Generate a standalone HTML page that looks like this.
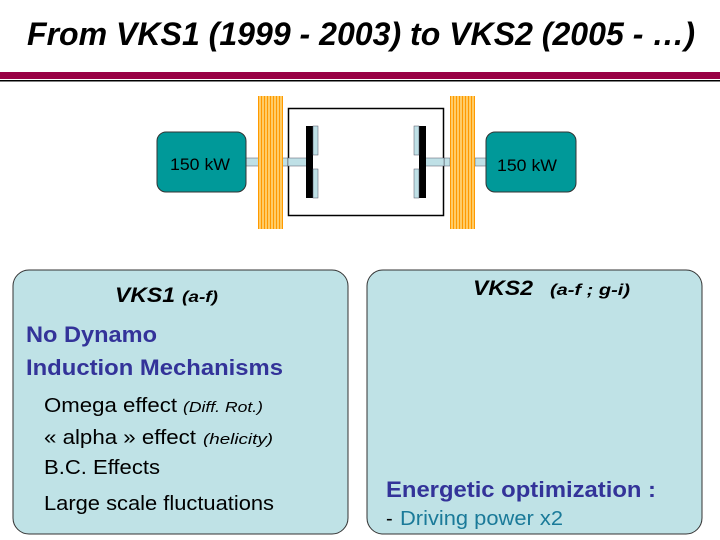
<!DOCTYPE html>
<html><head><style>
html,body{margin:0;padding:0;background:#fff;}
svg{display:block;}
text{font-family:"Liberation Sans",Arial,sans-serif;}
</style></head><body>
<svg width="720" height="540" viewBox="0 0 720 540" xmlns="http://www.w3.org/2000/svg">
<defs>
<pattern id="stripes" width="3" height="4" patternUnits="userSpaceOnUse">
<rect width="3" height="4" fill="#ffcc66"/>
<rect width="1" height="4" fill="#ff9900"/>
</pattern>
</defs>
<text x="27" y="45" font-size="32" font-weight="bold" font-style="italic" textLength="668" lengthAdjust="spacingAndGlyphs">From VKS1 (1999 - 2003) to VKS2 (2005 - …)</text>
<rect x="0" y="72" width="720" height="7" fill="#990044"/>
<rect x="0" y="80" width="720" height="1.5" fill="#000"/>

<!-- shafts -->
<rect x="246" y="158" width="42" height="8" fill="#bfe0e6" stroke="#556" stroke-width="0.5"/>
<rect x="425" y="158" width="25" height="8" fill="#bfe0e6" stroke="#556" stroke-width="0.5"/>
<rect x="475" y="158" width="12" height="8" fill="#bfe0e6" stroke="#556" stroke-width="0.5"/>
<!-- motors -->
<rect x="157" y="132" width="89" height="60" rx="9" fill="#009999" stroke="#333" stroke-width="1"/>
<text x="170" y="170" font-size="17" textLength="60" lengthAdjust="spacingAndGlyphs">150 kW</text>
<rect x="486" y="132" width="90" height="60" rx="9" fill="#009999" stroke="#333" stroke-width="1"/>
<text x="497" y="171" font-size="17" textLength="60" lengthAdjust="spacingAndGlyphs">150 kW</text>
<!-- coils -->
<rect x="258" y="96" width="25" height="133" fill="url(#stripes)"/>
<rect x="450" y="96" width="25" height="133" fill="url(#stripes)"/>
<!-- vessel -->
<rect x="288.5" y="108.5" width="155" height="107" fill="#fff" stroke="#000" stroke-width="1.5"/>
<rect x="288" y="158" width="20" height="8" fill="#bfe0e6" stroke="#556" stroke-width="0.5"/>
<rect x="425" y="158" width="19" height="8" fill="#bfe0e6" stroke="#556" stroke-width="0.5"/>
<!-- impellers -->
<rect x="306" y="126" width="7" height="72" fill="#000"/>
<rect x="313" y="126" width="5" height="29" fill="#bfe0e6" stroke="#556" stroke-width="0.5"/>
<rect x="313" y="169" width="5" height="29" fill="#bfe0e6" stroke="#556" stroke-width="0.5"/>
<rect x="419" y="126" width="7" height="72" fill="#000"/>
<rect x="414" y="126" width="5" height="29" fill="#bfe0e6" stroke="#556" stroke-width="0.5"/>
<rect x="414" y="169" width="5" height="29" fill="#bfe0e6" stroke="#556" stroke-width="0.5"/>

<!-- VKS1 box -->
<rect x="13" y="270" width="335" height="264" rx="16" fill="#bfe2e6" stroke="#333" stroke-width="1"/>
<text x="115" y="302" font-size="21" font-weight="bold" font-style="italic" textLength="60" lengthAdjust="spacingAndGlyphs">VKS1</text>
<text x="182" y="302" font-size="16" font-weight="bold" font-style="italic" textLength="36" lengthAdjust="spacingAndGlyphs">(a-f)</text>
<text x="26" y="342" font-size="22" font-weight="bold" fill="#333399" textLength="131" lengthAdjust="spacingAndGlyphs">No Dynamo</text>
<text x="26" y="375" font-size="22" font-weight="bold" fill="#333399" textLength="257" lengthAdjust="spacingAndGlyphs">Induction Mechanisms</text>
<text x="44" y="412" font-size="20" textLength="133" lengthAdjust="spacingAndGlyphs">Omega effect</text>
<text x="183" y="412" font-size="15" font-style="italic" textLength="80" lengthAdjust="spacingAndGlyphs">(Diff. Rot.)</text>
<text x="44" y="444" font-size="20" textLength="152" lengthAdjust="spacingAndGlyphs">« alpha » effect</text>
<text x="203" y="444" font-size="15" font-style="italic" textLength="70" lengthAdjust="spacingAndGlyphs">(helicity)</text>
<text x="44" y="474" font-size="20" textLength="116" lengthAdjust="spacingAndGlyphs">B.C. Effects</text>
<text x="44" y="510" font-size="20" textLength="230" lengthAdjust="spacingAndGlyphs">Large scale fluctuations</text>

<!-- VKS2 box -->
<rect x="367" y="270" width="335" height="264" rx="16" fill="#bfe2e6" stroke="#333" stroke-width="1"/>
<text x="473" y="295" font-size="21" font-weight="bold" font-style="italic" textLength="60" lengthAdjust="spacingAndGlyphs">VKS2</text>
<text x="550" y="295" font-size="16" font-weight="bold" font-style="italic" textLength="80" lengthAdjust="spacingAndGlyphs">(a-f ; g-i)</text>
<text x="386" y="497" font-size="22" font-weight="bold" fill="#333399" textLength="270" lengthAdjust="spacingAndGlyphs">Energetic optimization :</text>
<text x="386" y="525" font-size="20" fill="#000">-</text>
<text x="400" y="525" font-size="20" fill="#1a7a99" textLength="163" lengthAdjust="spacingAndGlyphs">Driving power x2</text>
</svg>
</body></html>
